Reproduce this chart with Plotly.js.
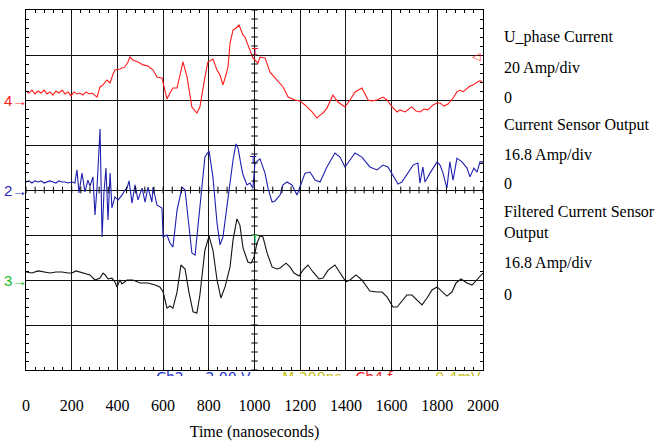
<!DOCTYPE html>
<html>
<head>
<meta charset="utf-8">
<script src="https://cdn.plot.ly/plotly-3.0.1.min.js"></script>
<style>html,body{margin:0;padding:0;background:#fff;}#chart{width:661px;height:441px;}</style>
</head>
<body>
<div id="chart"></div>
<script>
// ---- Data (time in ns, current in A) ----
const uPhaseTime = [0,13,26,39,53,66,79,92,105,118,131,144,158,171,184,197,210,223,236,249,263,276,289,302,311,
  324,337,354,368,381,389,411,433,446,455,468,490,512,534,556,573,595,608,617,630,643,661,674,687,705,718,726,748,761,783,
  796,818,836,849,862,875,884,893,906,919,932,941,949,958,971,980,993,1002,1015,1024,1046,1068,1090,1112,1125,1147,1177,1199,1221,1252,
  1273,1287,1300,1317,1343,1365,1396,1418,1440,1470,1497,1514,1536,1562,1580,1602,1624,1637,1659,1680,1689,1707,1724,1742,1759,1781,1799,1812,1829,1847,
  1869,1886,1899,1912,1930,1943,1956,1969,1982,1995];
const uPhaseAmps = [4.0,3.1,4.4,2.7,4.0,3.1,4.4,2.7,3.6,2.2,4.0,3.1,4.4,2.7,3.6,1.8,3.6,2.7,3.1,2.2,3.6,2.7,3.1,1.8,1.3,
  5.8,6.7,8.9,7.6,11.6,13.3,13.8,14.7,16.9,19.1,17.8,16.9,15.6,15.1,13.3,10.2,9.8,4.4,0.4,3.1,5.3,5.3,11.1,16.9,10.2,2.2,-3.1,-5.8,-3.1,10.2,
  16.9,18.2,13.3,11.1,6.7,11.1,14.7,25.3,31.1,32.0,33.3,31.1,28.9,28.0,24.4,22.2,18.7,17.8,16.4,19.1,18.7,12.4,9.8,7.6,5.8,1.3,0,-0.4,-2.2,-5.3,
  -8.0,-6.7,-5.8,-3.6,2.2,-0.9,-3.1,0,3.6,5.3,0,-0.4,0,1.3,0,-3.1,-5.3,-4.4,-5.3,-3.6,-3.1,-4.9,-5.3,-4.0,-4.4,-2.2,-1.3,-1.3,-2.7,-1.8,
  0.9,3.6,4.4,3.6,4.9,6.2,6.7,7.6,8.4,8.4];

const sensorTime = [0,13,26,39,53,66,79,92,105,118,131,144,158,171,184,201,
  214,223,232,245,258,271,280,293,302,311,
  324,333,341,350,359,368,376,389,403,420,
  433,442,451,464,477,490,508,521,534,551,
  556,573,595,600,617,630,643,661,683,696,
  709,726,740,761,783,801,818,836,849,862,
  880,893,906,919,928,941,950,967,980,993,
  1002,1024,1046,1059,1077,1090,1112,1125,1142,1164,
  1186,1199,1221,1243,1265,1287,1317,1352,1374,1396,
  1418,1440,1470,1505,1536,1562,1584,1615,1628,1645,
  1672,1694,1715,1724,1737,1746,1768,1799,1812,1825,
  1842,1855,1869,1886,1908,1930,1943,1960,1974,1987,2000];
const sensorAmps = [3.0,3.4,2.6,3.4,3.0,3.4,2.6,3.0,3.4,3.0,2.6,3.4,3.0,3.0,2.6,3.0,
  2.6,7.5,-1.1,6.3,-0.7,3.7,1.5,4.9,-9.3,1.1,
  22.8,-17.5,-1.1,8.2,-11.2,6.3,-6.7,-2.6,-3.7,-1.9,
  0,0.7,3.4,-4.9,1.9,-3.7,0.7,-4.5,1.1,-4.5,
  1.1,-5.6,-6.7,-17.5,-16.8,-19.8,-21.3,-7.5,1.1,0,
  -11.2,-23.5,-24.3,-6.3,12.3,14.6,4.9,-12.3,-20.5,-17.5,
  -5.6,3.7,11.2,17.2,15.7,9.3,5.6,1.9,2.6,0.7,
  10.1,11.6,6.3,0.7,-4.5,-4.1,-1.9,1.9,3.0,1.9,
  -1.9,1.1,6.3,6.7,3.7,3.0,8.6,13.8,12.3,8.6,
  11.2,13.8,12.3,8.6,7.5,9.3,8.6,3.7,2.2,3.0,
  6.3,9.3,10.1,2.6,8.6,3.0,6.3,10.5,9.3,6.3,
  0.7,10.5,3.7,11.9,10.5,8.2,4.9,8.2,6.7,10.5,10.5];

const filteredTime = [0,26,53,79,105,131,158,184,201,219,
  236,258,280,302,324,337,346,359,376,389,
  398,411,420,442,468,499,534,565,586,600,
  617,630,643,661,678,696,713,731,748,761,
  783,801,818,836,853,871,893,906,923,936,
  950,971,985,998,1011,1024,1037,1055,1077,1098,
  1112,1138,1155,1173,1195,1212,1234,1256,1282,1300,
  1322,1352,1374,1400,1418,1444,1470,1505,1536,1558,
  1580,1606,1624,1645,1667,1689,1711,1733,1755,1777,
  1799,1821,1842,1864,1882,1904,1930,1952,1974,2000];
const filteredAmps = [3.0,2.6,3.4,3.0,2.6,3.0,3.0,2.6,2.6,3.4,
  3.0,2.2,1.9,0,0.7,2.6,1.9,0.4,0.7,-0.7,
  -2.6,0,-1.5,0,0,-1.1,-1.1,-1.9,-2.6,-4.5,
  -10.5,-9.7,-10.5,-4.5,5.6,4.1,-4.5,-11.9,-12.3,-5.6,
  11.2,16.4,11.2,0,-6.7,-2.6,4.9,14.9,22.8,20.5,
  11.9,6.7,6.3,8.6,13.8,16.4,16.1,10.1,4.9,4.1,
  4.5,6.3,4.9,2.6,1.5,3.7,5.6,3.0,0.4,0.7,
  3.7,5.6,2.6,-0.7,0,1.9,0,-4.1,-4.5,-4.5,
  -6.3,-10.1,-10.1,-7.8,-5.6,-5.6,-7.5,-9.3,-6.7,-3.7,
  -2.6,-4.5,-6.0,-4.5,-1.1,0.4,-1.1,-1.9,0,2.6];

const channelNames = ['U_phase Current', 'Current Sensor Output', 'Filtered Current Sensor<br>Output'];
const ampsPerDiv = [20, 16.8, 16.8];
const channelNumbers = ['4', '2', '3'];
const xTickLabels = ['0','200','400','600','800','1000','1200','1400','1600','1800','2000'];
const scopeLabelText = ['Ch2', '2.00 V', 'M 200ns', 'Ch4 \u0192', '0.4mV'];
const scopeLabelTime = [630, 884, 1252, 1523, 1890];

// ---- styling / placement ----
const colors = ['#ff1a1a', '#1f1fb0', '#111111'];
const markerColors = ['#ff1a1a', '#1f1fb0', '#22bb22'];
const zeroDiv = [2, 0, -2];   // screen position (divisions) of each channel's zero
const serif = 'Liberation Serif';

function toDiv(amps, scale, off) { return amps.map(a => off + a / scale); }

const traces = [
  {x: uPhaseTime, y: toDiv(uPhaseAmps, ampsPerDiv[0], zeroDiv[0])},
  {x: sensorTime, y: toDiv(sensorAmps, ampsPerDiv[1], zeroDiv[1])},
  {x: filteredTime, y: toDiv(filteredAmps, ampsPerDiv[2], zeroDiv[2])}
].map((t, i) => Object.assign(t, {
  type: 'scatter', mode: 'lines', line: {color: colors[i], width: 1.1},
  hoverinfo: 'skip', showlegend: false, xaxis: 'x', yaxis: 'y'
}));

// cut-off scope readout text at the bottom (clipped by its own thin subplot)
traces.push({
  type: 'scatter', mode: 'text', x: scopeLabelTime, y: scopeLabelTime.map(() => -0.45),
  text: scopeLabelText, textposition: 'middle center', cliponaxis: true,
  textfont: {family: 'DejaVu Sans', size: 14, color: ['#2233cc', '#2233cc', '#c8c020', '#ee2222', '#c8c020']},
  xaxis: 'x2', yaxis: 'y2', hoverinfo: 'skip', showlegend: false
});

// centre-line graticule ticks
const shapes = [];
for (let t = 0; t <= 2000; t += 40) {
  shapes.push({type: 'line', xref: 'x', yref: 'y', x0: t, x1: t, y0: -0.075, y1: 0.075, line: {color: 'black', width: 1}});
}
for (let k = -20; k <= 20; k++) {
  const v = k * 0.2;
  shapes.push({type: 'line', xref: 'x', yref: 'y', x0: 986, x1: 1014, y0: v, y1: v, line: {color: 'black', width: 1}});
}

const annotations = [];
// right-hand labels
const rightRows = [];
channelNames.forEach((name, i) => {
  rightRows.push(name, ampsPerDiv[i] + ' Amp/div', '0');
});
const rightY = [0.927, 0.844, 0.763, 0.690, 0.609, 0.531, 0.426, 0.318, 0.232];
rightRows.forEach((txt, i) => {
  annotations.push({xref: 'paper', yref: 'paper', x: 1.042, y: rightY[i], xanchor: 'left', yanchor: 'middle',
    align: 'left', showarrow: false, text: txt, font: {family: serif, size: 16, color: 'black'}});
});
// channel ground markers on the left
channelNumbers.forEach((n, i) => {
  annotations.push({xref: 'paper', yref: 'y', x: -0.024, y: zeroDiv[i], xanchor: 'center', yanchor: 'middle',
    showarrow: false, text: n + '\u2192',
    font: {family: 'Liberation Sans', size: 15, color: markerColors[i]}});
});
// trigger markers
[[1000, 3.06, colors[0]], [995, 0.66, colors[1]], [1000, -1.11, markerColors[2]]].forEach(m => {
  annotations.push({xref: 'x', yref: 'y', x: m[0], y: m[1], xanchor: 'center', yanchor: 'middle', showarrow: false,
    text: 'T', font: {family: 'DejaVu Sans', size: 10, color: m[2]}});
});
annotations.push({xref: 'x', yref: 'y', x: 1972, y: 2.96, xanchor: 'center', yanchor: 'middle', showarrow: false,
  text: '\u25C1', font: {family: 'DejaVu Sans', size: 11, color: colors[0]}});

const layout = {
  width: 661, height: 441,
  margin: {l: 26, r: 178, t: 10, b: 60, pad: 0},
  paper_bgcolor: '#ffffff', plot_bgcolor: 'rgba(0,0,0,0)',
  showlegend: false,
  xaxis: {
    domain: [0, 1], anchor: 'y', range: [0, 2000], tickmode: 'array',
    tickvals: xTickLabels.map(Number), ticktext: xTickLabels,
    showgrid: true, gridcolor: '#1a1a1a', gridwidth: 1, zeroline: false,
    showline: true, linecolor: 'black', linewidth: 1, mirror: 'ticks',
    ticks: 'inside', ticklen: 3, tickcolor: 'black',
    minor: {dtick: 40, tick0: 0, ticks: 'inside', ticklen: 3, tickcolor: 'black', showgrid: false},
    tickfont: {family: serif, size: 16, color: 'black'},
    ticklabelstandoff: 21,
    title: {text: 'Time (nanoseconds)', font: {family: serif, size: 16, color: 'black'}, standoff: 16},
    fixedrange: true
  },
  yaxis: {
    domain: [11 / 371, 1], anchor: 'x', range: [-4, 4], dtick: 1, tick0: 0,
    showticklabels: false, showgrid: true, gridcolor: '#111111', gridwidth: 1, zeroline: false,
    showline: true, linecolor: 'black', linewidth: 1, mirror: 'ticks',
    ticks: 'inside', ticklen: 3, tickcolor: 'black',
    minor: {dtick: 0.2, tick0: 0, ticks: 'inside', ticklen: 3, tickcolor: 'black', showgrid: false},
    fixedrange: true
  },
  xaxis2: {domain: [0, 1], anchor: 'y2', range: [0, 2000], visible: false, fixedrange: true},
  yaxis2: {domain: [5 / 371, 10 / 371], anchor: 'x2', range: [0, 1], visible: false, fixedrange: true},
  shapes: shapes,
  annotations: annotations
};

Plotly.newPlot('chart', traces, layout, {staticPlot: true, displayModeBar: false});
</script>
</body>
</html>
